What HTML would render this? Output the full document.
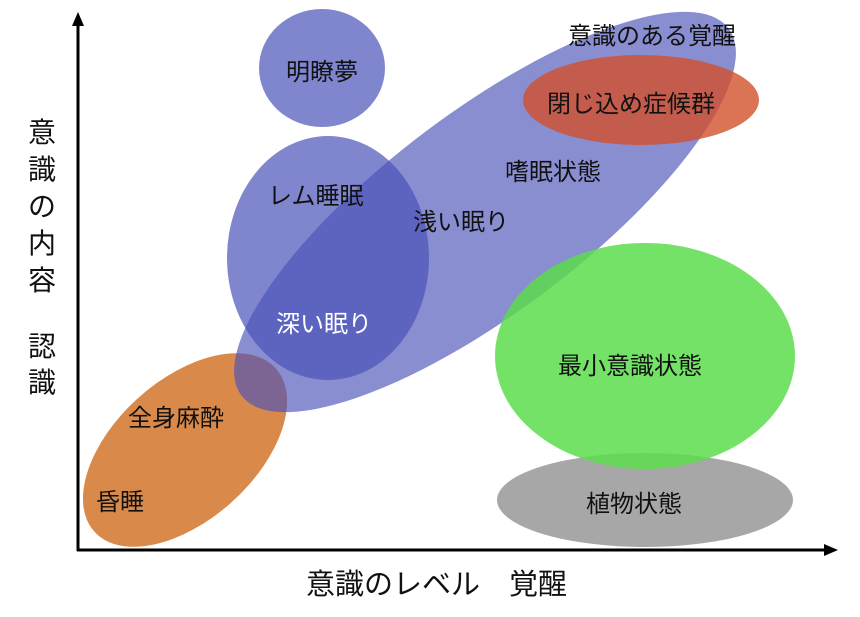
<!DOCTYPE html>
<html><head><meta charset="utf-8"><style>
html,body{margin:0;padding:0;background:#fff;}
svg text{font-family:"Liberation Sans","Noto Sans CJK JP",sans-serif;fill:#111;}
</style></head><body>
<svg width="860" height="612" viewBox="0 0 860 612" xmlns="http://www.w3.org/2000/svg">
<rect width="860" height="612" fill="#fff"/>
<ellipse cx="185" cy="450" rx="122" ry="70" transform="rotate(-42 185 450)" fill="#d2742a" opacity="0.85"/>
<ellipse cx="645" cy="500" rx="148" ry="47" fill="#8a8a8a" opacity="0.75"/>
<ellipse cx="322" cy="68" rx="63" ry="59" fill="#4a52b8" opacity="0.7"/>
<ellipse cx="328" cy="258" rx="101" ry="122" fill="#4a52b8" opacity="0.7"/>
<ellipse cx="485" cy="212" rx="305" ry="100" transform="rotate(-37 485 212)" fill="#4a52b8" opacity="0.65"/>
<ellipse cx="641" cy="100" rx="118" ry="45" fill="#d2502a" opacity="0.8"/>
<ellipse cx="645" cy="356" rx="150" ry="113" fill="#5cdc4c" opacity="0.85"/>
<line x1="78" y1="551" x2="78" y2="22" stroke="#000" stroke-width="3"/>
<polygon points="78,12 72,26 84,26" fill="#000"/>
<line x1="77" y1="550" x2="828" y2="550" stroke="#000" stroke-width="3"/>
<polygon points="838,550 824,544 824,556" fill="#000"/>
<g font-size="24">
<text x="568" y="44">意識のある覚醒</text>
<text x="547" y="112">閉じ込め症候群</text>
<text x="322" y="80" text-anchor="middle">明瞭夢</text>
<text x="505" y="180">嗜眠状態</text>
<text x="268" y="204">レム睡眠</text>
<text x="413" y="230">浅い眠り</text>
<text x="276" y="332" style="fill:#fff">深い眠り</text>
<text x="558" y="374">最小意識状態</text>
<text x="128" y="426">全身麻酔</text>
<text x="96" y="510">昏睡</text>
<text x="586" y="512">植物状態</text>
</g>
<g font-size="28">
<text x="42" y="142" text-anchor="middle">意</text>
<text x="42" y="179" text-anchor="middle">識</text>
<text x="42" y="216" text-anchor="middle">の</text>
<text x="42" y="253" text-anchor="middle">内</text>
<text x="42" y="290" text-anchor="middle">容</text>
<text x="42" y="356" text-anchor="middle">認</text>
<text x="42" y="392" text-anchor="middle">識</text>
</g>
<text x="306" y="594" font-size="29">意識のレベル　覚醒</text>
</svg>
</body></html>
